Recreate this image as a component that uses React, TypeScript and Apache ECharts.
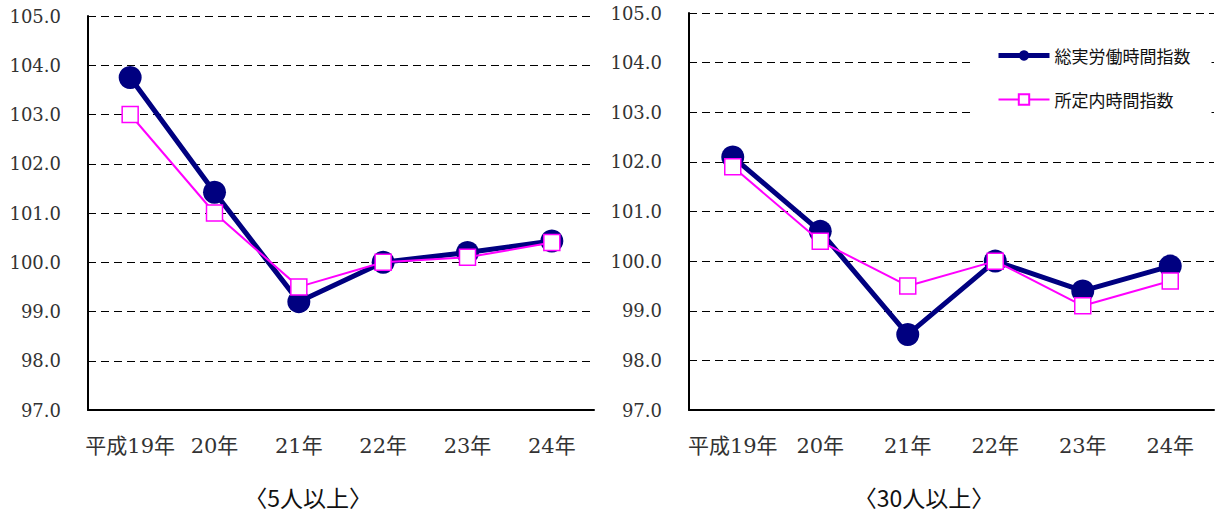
import React, { useEffect, useRef } from "react";
import * as echarts from "echarts";

const categories = ["平成19年", "20年", "21年", "22年", "23年", "24年"];
const yTicks = { min: 97, max: 105, interval: 1 };

const seriesNames = ["総実労働時間指数", "所定内時間指数"];

// 〈5人以上〉
const total5 = [103.75, 101.42, 99.2, 100.0, 100.2, 100.43];
const scheduled5 = [103.0, 101.0, 99.5, 100.0, 100.1, 100.4];

// 〈30人以上〉
const total30 = [102.1, 100.6, 98.52, 100.0, 99.4, 99.9];
const scheduled30 = [101.9, 100.4, 99.5, 100.0, 99.1, 99.6];

const panelTitles = ["〈5人以上〉", "〈30人以上〉"];

const NAVY = "#000080";
const MAGENTA = "#FF00FF";
const SERIF = "DejaVu Serif";

export default function App() {
  const ref = useRef<HTMLDivElement>(null);

  useEffect(() => {
    document.body.style.margin = "0";
    const chart = echarts.init(ref.current!, undefined, { renderer: "svg" });

    const yAxisBase = (gridIndex: number) => ({
      type: "value",
      gridIndex,
      min: yTicks.min,
      max: yTicks.max,
      interval: yTicks.interval,
      axisLine: { show: true, lineStyle: { color: "#000", width: 2 } },
      axisTick: { show: false },
      axisLabel: {
        margin: 27,
        color: "#333",
        fontFamily: SERIF,
        fontSize: 18,
        formatter: (v: number) => v.toFixed(1),
      },
      splitLine: {
        show: true,
        lineStyle: { color: "#000", width: 1, type: [8, 5] },
      },
    });

    const xAxisBase = (gridIndex: number) => ({
      type: "category",
      gridIndex,
      data: categories,
      boundaryGap: true,
      axisLine: { show: true, lineStyle: { color: "#000", width: 2 } },
      axisTick: { show: false },
      axisLabel: {
        interval: 0,
        margin: 25,
        color: "#333",
        fontFamily: "DejaVu Serif, Noto Sans CJK JP",
        fontSize: 21,
      },
      splitLine: { show: false },
    });

    const totalSeries = (idx: number, data: number[]) => ({
      name: seriesNames[0],
      type: "line",
      xAxisIndex: idx,
      yAxisIndex: idx,
      data,
      symbol: "circle",
      symbolSize: 23,
      lineStyle: { color: NAVY, width: 5 },
      itemStyle: { color: NAVY },
      z: 2,
    });

    const schedSeries = (idx: number, data: number[]) => ({
      name: seriesNames[1],
      type: "line",
      xAxisIndex: idx,
      yAxisIndex: idx,
      data,
      symbol: "rect",
      symbolSize: 16,
      lineStyle: { color: MAGENTA, width: 2 },
      itemStyle: { color: "#fff", borderColor: MAGENTA, borderWidth: 1.5 },
      z: 3,
    });

    const titleText = (x: number, y: number, text: string) => ({
      type: "text",
      x,
      y,
      style: {
        text,
        textAlign: "center",
        textVerticalAlign: "middle",
        fontFamily: "Noto Sans CJK JP",
        fontSize: 23,
        fill: "#111",
      },
    });

    chart.setOption({
      animation: false,
      backgroundColor: "#fff",
      grid: [
        { left: 88, top: 16, width: 506, height: 394 },
        { left: 689, top: 13, width: 525, height: 397 },
      ],
      xAxis: [xAxisBase(0), xAxisBase(1)],
      yAxis: [yAxisBase(0), yAxisBase(1)],
      legend: {
        data: [
          { name: seriesNames[0], lineStyle: { width: 5 } },
          { name: seriesNames[1], lineStyle: { width: 2 } },
        ],
        orient: "vertical",
        left: 972,
        top: 40,
        padding: [7, 21, 7, 24],
        itemWidth: 51,
        itemHeight: 13,
        itemGap: 27,
        backgroundColor: "#fff",
        textStyle: {
          fontFamily: "Noto Sans CJK JP",
          fontSize: 17,
          color: "#111",
        },
      },
      series: [
        totalSeries(0, total5),
        schedSeries(0, scheduled5),
        totalSeries(1, total30),
        schedSeries(1, scheduled30),
      ],
      graphic: [
        titleText(308, 497, panelTitles[0]),
        titleText(924, 497, panelTitles[1]),
      ],
    });

    return () => chart.dispose();
  }, []);

  return <div ref={ref} style={{ width: 1216, height: 515 }} />;
}
